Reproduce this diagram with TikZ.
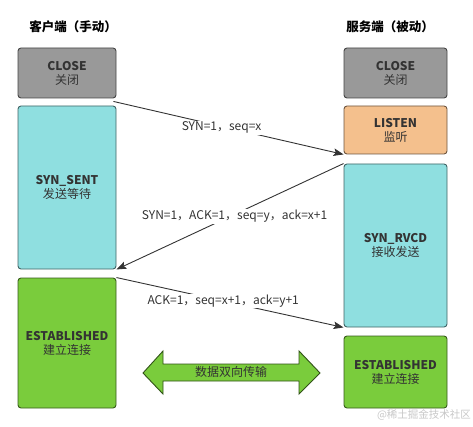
\documentclass[tikz,border=0pt]{standalone}
\usepackage{fontspec}
\setmainfont{Noto Sans CJK SC}
\usetikzlibrary{arrows.meta}
\definecolor{grayfill}{HTML}{999999}
\definecolor{cyanfill}{HTML}{8FDFE0}
\definecolor{orangefill}{HTML}{F4C08D}
\definecolor{greenfill}{HTML}{7ACC3C}
\definecolor{txt}{HTML}{333333}
\tikzset{
  statebox/.style={draw=#1!45!black, fill=#1, rounded corners=3pt, line width=0.9pt,
    align=center, text=txt, font=\fontsize{12}{14}\selectfont, inner sep=0pt},
  conn/.style={draw=txt, line width=0.9pt, -{Stealth[length=10pt,width=7.5pt,inset=2pt]}},
  lbl/.style={fill=white, text=txt, font=\fontsize{12}{14}\selectfont, inner sep=1pt},
  hdr/.style={text=black, font=\fontsize{12.5}{14}\selectfont\bfseries},
}
\begin{document}
\begin{tikzpicture}[x=1pt,y=-1pt]
\useasboundingbox (0,0) rectangle (473,427);
% headers
\node[hdr] (hl) at (73,27) {客户端（手动）};
\node[hdr] (hr) at (390,27) {服务端（被动）};
% client boxes
\node[statebox=grayfill, minimum width=98pt, minimum height=50pt] (lclose) at (67,73)
  {\textbf{CLOSE}\\关闭};
\node[statebox=cyanfill, minimum width=98pt, minimum height=163pt] (synsent) at (67,187.5)
  {\textbf{SYN\_SENT}\\发送等待};
\node[statebox=greenfill, minimum width=98pt, minimum height=130pt] (lest) at (67,343)
  {\textbf{ESTABLISHED}\\建立连接};
% server boxes
\node[statebox=grayfill, minimum width=103pt, minimum height=50pt] (rclose) at (395.5,73)
  {\textbf{CLOSE}\\关闭};
\node[statebox=orangefill, minimum width=103pt, minimum height=48pt] (listen) at (395.5,130)
  {\textbf{LISTEN}\\监听};
\node[statebox=cyanfill, minimum width=103pt, minimum height=163pt] (srvcd) at (395.5,245.5)
  {\textbf{SYN\_RVCD}\\接收发送};
\node[statebox=greenfill, minimum width=103pt, minimum height=72pt] (rest) at (395.5,372)
  {\textbf{ESTABLISHED}\\建立连接};
% handshake connectors
\coordinate (c1) at ([shift={(-3,3)}]lclose.south east);
\draw[conn] (c1) -- node[lbl, pos=0.47, yshift=-1.5pt] (l1) {SYN=1，seq=x} (listen.south west);
\draw[conn] (srvcd.north west) -- node[lbl, pos=0.48, yshift=-2pt] (l2) {SYN=1，ACK=1，seq=y，ack=x+1} (synsent.south east);
\draw[conn] (lest.north east) -- node[lbl, pos=0.47] (l3) {ACK=1，seq=x+1，ack=y+1} (srvcd.south west);
% bidirectional data arrow
\draw[draw=greenfill!40!black, fill=greenfill, line width=0.9pt, line join=miter]
  (143,373) -- (163,351) -- (163,364) -- (299,364) -- (299,351) -- (320,373)
  -- (299,394) -- (299,381) -- (163,381) -- (163,394) -- cycle;
\node[text=txt, font=\fontsize{12}{14}\selectfont] (data) at (231,372) {数据双向传输};
% watermark
\node[text=black!22, font=\fontsize{10.5}{12}\selectfont] (wm) at (424,415) {@稀土掘金技术社区};
\end{tikzpicture}
\end{document}
